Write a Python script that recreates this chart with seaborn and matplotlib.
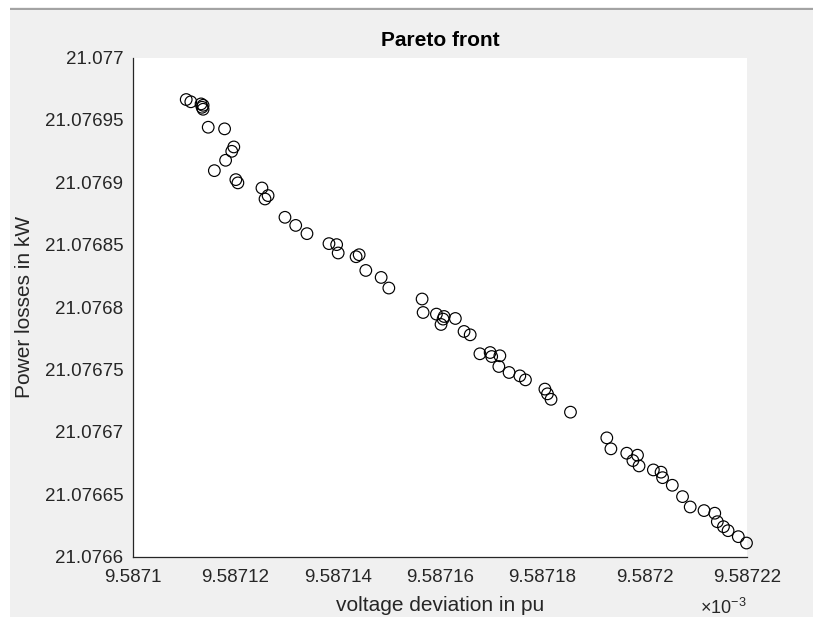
import numpy as np
import matplotlib
matplotlib.use("Agg")
import matplotlib.pyplot as plt
from matplotlib.patches import Rectangle
from matplotlib.ticker import FixedLocator, FixedFormatter
import seaborn as sns

# Pareto-optimal solutions: voltage deviation (in units of 1e-3 pu) and power losses (kW)
voltage_dev_e3 = [
    9.5871104, 9.5871113, 9.5871133, 9.5871137, 9.5871135, 9.5871137, 9.5871147,
    9.5871179, 9.5871197, 9.5871193, 9.5871181, 9.5871159, 9.5871201, 9.5871205,
    9.5871252, 9.5871264, 9.5871258, 9.5871297, 9.5871318, 9.5871340, 9.5871383,
    9.5871398, 9.5871401, 9.5871436, 9.5871442, 9.5871455, 9.5871485, 9.5871500,
    9.5871565, 9.5871567, 9.5871593, 9.5871608, 9.5871606, 9.5871602, 9.5871630,
    9.5871647, 9.5871659, 9.5871678, 9.5871698, 9.5871701, 9.5871717, 9.5871715,
    9.5871735, 9.5871756, 9.5871767, 9.5871805, 9.5871810, 9.5871817, 9.5871855,
    9.5871926, 9.5871934, 9.5871965, 9.5871986, 9.5871977, 9.5871989, 9.5872017,
    9.5872032, 9.5872035, 9.5872054, 9.5872074, 9.5872089, 9.5872116, 9.5872137,
    9.5872142, 9.5872154, 9.5872163, 9.5872183, 9.5872199,
]
power_loss_kw = [
    21.0769663, 21.0769645, 21.0769628, 21.0769617, 21.0769601, 21.0769585, 21.0769441,
    21.0769428, 21.0769283, 21.0769248, 21.0769176, 21.0769093, 21.0769021, 21.0768995,
    21.0768954, 21.0768893, 21.0768866, 21.0768719, 21.0768654, 21.0768588, 21.0768508,
    21.0768500, 21.0768433, 21.0768403, 21.0768419, 21.0768293, 21.0768237, 21.0768152,
    21.0768064, 21.0767956, 21.0767943, 21.0767924, 21.0767903, 21.0767860, 21.0767908,
    21.0767804, 21.0767777, 21.0767625, 21.0767635, 21.0767603, 21.0767609, 21.0767523,
    21.0767475, 21.0767448, 21.0767416, 21.0767342, 21.0767304, 21.0767260, 21.0767157,
    21.0766951, 21.0766863, 21.0766828, 21.0766812, 21.0766769, 21.0766726, 21.0766694,
    21.0766676, 21.0766632, 21.0766571, 21.0766480, 21.0766397, 21.0766368, 21.0766347,
    21.0766279, 21.0766239, 21.0766207, 21.0766159, 21.0766108,
]

x_ticks_e3 = [9.5871, 9.58712, 9.58714, 9.58716, 9.58718, 9.5872, 9.58722]
x_tick_labels = ["9.5871", "9.58712", "9.58714", "9.58716", "9.58718", "9.5872", "9.58722"]
y_ticks = [21.0766, 21.07665, 21.0767, 21.07675, 21.0768, 21.07685, 21.0769, 21.07695, 21.077]
y_tick_labels = ["21.0766", "21.07665", "21.0767", "21.07675", "21.0768",
                 "21.07685", "21.0769", "21.07695", "21.077"]

sns.set_style("white")
plt.rcParams["font.family"] = ["Liberation Sans", "DejaVu Sans"]
plt.rcParams["mathtext.fontset"] = "custom"
plt.rcParams["mathtext.rm"] = "Liberation Sans"
plt.rcParams["mathtext.it"] = "Liberation Sans:italic"

W, H = 813, 617
fig = plt.figure(figsize=(W / 100, H / 100), dpi=100, facecolor="#f0f0f0")

# window frame: white margin on the left and top, thin grey rule under it
fig.patches.append(Rectangle((0, 0), 10 / W, 1, transform=fig.transFigure,
                             facecolor="white", edgecolor="none", zorder=0))
fig.patches.append(Rectangle((0, 1 - 7 / H), 1, 7 / H, transform=fig.transFigure,
                             facecolor="white", edgecolor="none", zorder=0))
fig.patches.append(Rectangle((10 / W, 1 - 10 / H), 1, 2.2 / H, transform=fig.transFigure,
                             facecolor="#a3a3a3", edgecolor="none", zorder=0))

ax_left, ax_right, ax_top, ax_bottom = 133, 747, 57.5, 556.5
ax = fig.add_axes([ax_left / W, 1 - ax_bottom / H,
                   (ax_right - ax_left) / W, (ax_bottom - ax_top) / H])
ax.set_facecolor("white")

x_pu = np.array(voltage_dev_e3) * 1e-3
sns.scatterplot(x=x_pu, y=np.array(power_loss_kw), ax=ax, marker="o", s=70,
                facecolor="none", edgecolor="black", linewidth=0.85, zorder=3,
                clip_on=False)

ax.set_xlim(x_ticks_e3[0] * 1e-3, x_ticks_e3[-1] * 1e-3)
ax.set_ylim(y_ticks[0], y_ticks[-1])
ax.xaxis.set_major_locator(FixedLocator([v * 1e-3 for v in x_ticks_e3]))
ax.xaxis.set_major_formatter(FixedFormatter(x_tick_labels))
ax.yaxis.set_major_locator(FixedLocator(y_ticks))
ax.yaxis.set_major_formatter(FixedFormatter(y_tick_labels))

axis_col = "#262626"
for side in ("top", "right"):
    ax.spines[side].set_visible(False)
for side in ("left", "bottom"):
    ax.spines[side].set_color(axis_col)
    ax.spines[side].set_linewidth(0.9)
ax.tick_params(axis="both", direction="in", length=4.5, width=0.8, color=axis_col,
               labelcolor=axis_col, labelsize=13.5)
ax.tick_params(axis="x", pad=9)
ax.tick_params(axis="y", pad=7)

ax.set_title("Pareto front", fontsize=15, fontweight="bold", color="black", pad=8)
ax.set_xlabel("voltage deviation in pu", fontsize=15, color=axis_col, labelpad=7)
ax.set_ylabel("Power losses in kW", fontsize=15, color=axis_col, labelpad=8)

fig.text(ax_right / W, 1 - 614 / H, r"$\times\mathregular{10^{-3}}$", ha="right",
         va="baseline", fontsize=13, color=axis_col)

fig.savefig("out.png", dpi=100, facecolor=fig.get_facecolor())
